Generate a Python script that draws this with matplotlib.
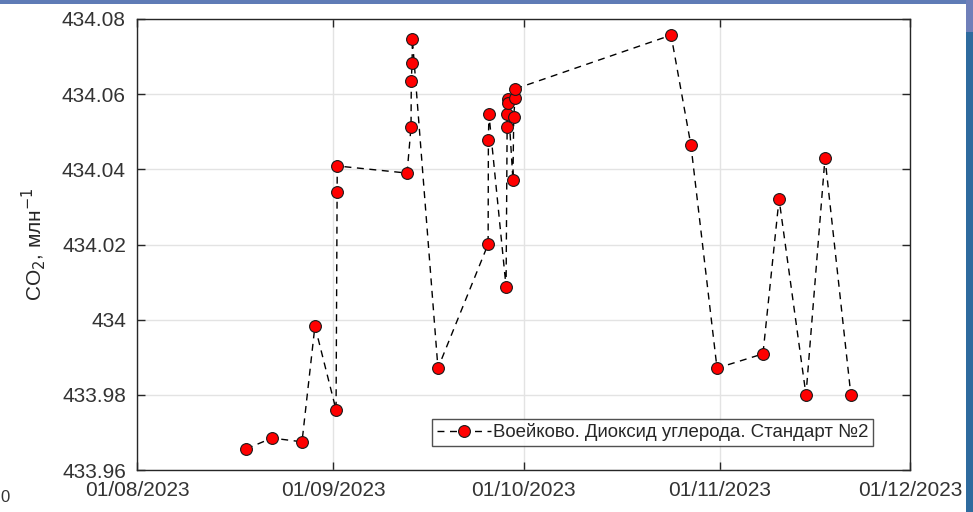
import matplotlib
matplotlib.use("Agg")
import matplotlib.pyplot as plt
import matplotlib.dates as mdates
from matplotlib.patches import Rectangle
from matplotlib.ticker import FuncFormatter, FixedLocator
import pandas as pd

plt.rcParams['font.family'] = ['Liberation Sans', 'DejaVu Sans']

# ---- data ----
dates = [
    "2023-08-18 05:00", "2023-08-22 07:00", "2023-08-27 01:00", "2023-08-29 02:00",
    "2023-09-01 10:00", "2023-09-01 14:00", "2023-09-01 14:30", "2023-09-12 15:00",
    "2023-09-13 06:00", "2023-09-13 07:00", "2023-09-13 10:00", "2023-09-13 11:00",
    "2023-09-17 12:00", "2023-09-25 10:00", "2023-09-25 11:00", "2023-09-25 13:00",
    "2023-09-28 06:00", "2023-09-28 10:00", "2023-09-28 11:00", "2023-09-28 13:00",
    "2023-09-28 14:00", "2023-09-29 08:00", "2023-09-29 11:00", "2023-09-29 16:00",
    "2023-09-29 17:00", "2023-10-24 07:00", "2023-10-27 10:00", "2023-10-31 13:00",
    "2023-11-07 19:00", "2023-11-10 08:00", "2023-11-14 14:00", "2023-11-17 14:00",
    "2023-11-21 16:00",
]
co2 = [
    433.9656, 433.9685, 433.9675, 433.9983,
    433.9760, 434.0340, 434.0409, 434.0390,
    434.0513, 434.0635, 434.0683, 434.0747,
    433.9871, 434.0201, 434.0478, 434.0547,
    434.0087, 434.0513, 434.0547, 434.0587,
    434.0577, 434.0372, 434.0539, 434.0590,
    434.0614, 434.0757, 434.0465, 433.9871,
    433.9909, 434.0321, 433.9800, 434.0430,
    433.9800,
]
series_label = "Воейково. Диоксид углерода. Стандарт №2"
y_label = "CO$_2$, млн$^{-1}$"
x_ticks = ["2023-08-01", "2023-09-01", "2023-10-01", "2023-11-01", "2023-12-01"]
y_ticks = [433.96, 433.98, 434.00, 434.02, 434.04, 434.06, 434.08]

x = pd.to_datetime(dates)
xt = pd.to_datetime(x_ticks)

fig = plt.figure(figsize=(9.73, 5.12), dpi=100, facecolor='white')

# slide background remnants
fig.add_artist(Rectangle((0, 1 - 4 / 512), 1, 4 / 512, transform=fig.transFigure,
                         facecolor='#5f7bb6', edgecolor='none', zorder=0))
fig.add_artist(Rectangle((966 / 973, 0), 7 / 973, 1 - 32 / 512, transform=fig.transFigure,
                         facecolor='#2e6b9e', edgecolor='none', zorder=0))
fig.add_artist(Rectangle((966 / 973, 1 - 32 / 512), 7 / 973, 32 / 512, transform=fig.transFigure,
                         facecolor='#6f7fb9', edgecolor='none', zorder=0))

ax = fig.add_axes([137 / 973, 1 - 470 / 512, (910 - 137) / 973, (470 - 19) / 512])
ax.set_facecolor('white')

ax.plot(x, co2, linestyle=(0, (5, 4)), color='black', linewidth=1.0,
        marker='o', markersize=8.5, markerfacecolor='#ff0000', markeredgecolor='#1a1a1a',
        markeredgewidth=0.8, label=series_label, zorder=3)

ax.set_xlim(xt[0], xt[-1])
ax.set_ylim(433.96, 434.08)
ax.xaxis.set_major_locator(FixedLocator(mdates.date2num(xt)))
ax.xaxis.set_major_formatter(mdates.DateFormatter('%d/%m/%Y'))
ax.yaxis.set_major_locator(FixedLocator(y_ticks))
ax.yaxis.set_major_formatter(FuncFormatter(lambda v, p: f"{round(v, 2):g}"))

ax.grid(True, color='#e3e3e3', linewidth=1.0, zorder=0)
ax.set_axisbelow(True)
for s in ax.spines.values():
    s.set_color('#262626')
    s.set_linewidth(1.0)
ax.tick_params(direction='in', length=6, width=1.0, colors='#262626',
               top=True, right=True, labelsize=15, pad=8)
for lab in ax.get_xticklabels() + ax.get_yticklabels():
    lab.set_color('#333333')

ax.set_ylabel(y_label, fontsize=15, color='#262626', labelpad=10)

leg = ax.legend(loc='lower left', bbox_to_anchor=((432 - 137) / 773, (470 - 446) / 451),
                fontsize=13.4, frameon=True, fancybox=False, handlelength=2.9,
                handletextpad=0.15, borderpad=0.25, borderaxespad=0)
leg.get_frame().set_edgecolor('#262626')
leg.get_frame().set_linewidth(1.0)
for t in leg.get_texts():
    t.set_color('#262626')

fig.text(0.5 / 973, 1 - 497 / 512, '0', ha='left', va='center', fontsize=12, color='#333333')

fig.savefig('out.png', dpi=100, facecolor='white')
